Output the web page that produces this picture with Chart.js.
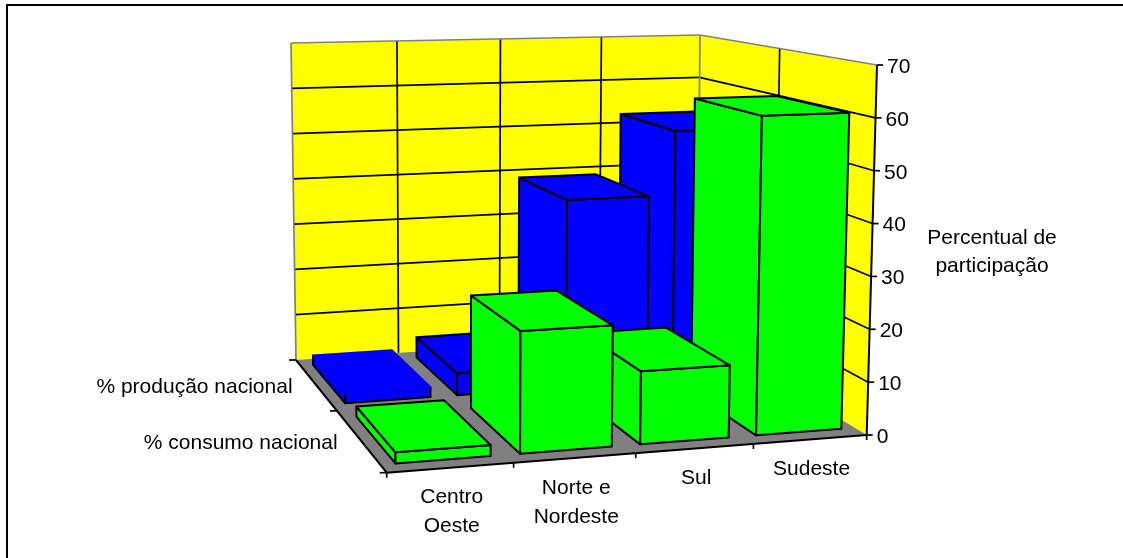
<!DOCTYPE html>
<html>
<head>
<meta charset="utf-8">
<style>
  html, body { margin: 0; padding: 0; background: #fff; }
  #wrap { width: 1123px; height: 558px; }
</style>
<script src="https://cdn.jsdelivr.net/npm/chart.js@4/dist/chart.umd.min.js"></script>
</head>
<body>
<div id="wrap"><canvas id="chart" width="1123" height="558"></canvas></div>
<script>
const categories = ["Centro Oeste", "Norte e Nordeste", "Sul", "Sudeste"];
const categoryLines = [["Centro", "Oeste"], ["Norte e", "Nordeste"], ["Sul"], ["Sudeste"]];
const seriesNames = ["% consumo nacional", "% produção nacional"];
const consumo = [2, 22.5, 13.6, 60.5];
const producao = [2, 4.5, 39, 52.6];
const axisTitle = ["Percentual de", "participação"];

// corners of the plot box, at the floor and at the top of the value axis
const floorCorners = {
  frontLeft: [386.7, 472.7],
  frontRight: [866.7, 435],
  backLeft: [296, 360],
  backRight: [697, 332],
};
const topCorners = {
  frontLeft: [386, 78],
  frontRight: [877, 65],
  backLeft: [291, 43],
  backRight: [700, 35],
};
const FONT = '21px "Liberation Sans", Arial, sans-serif';
const BAR_SHARE = 0.76;
const DEPTH_SHARE = 0.76;
const FLOOR_BEND = 0.04;
const TOP_BEND = -0.03;

// homography from the unit square (u along categories, v into depth) to a quad
function quadMatrix(c) {
  const [x0, y0] = c.frontLeft, [x1, y1] = c.frontRight;
  const [x2, y2] = c.backRight, [x3, y3] = c.backLeft;
  const dx1 = x1 - x2, dx2 = x3 - x2, sx = x0 - x1 + x2 - x3;
  const dy1 = y1 - y2, dy2 = y3 - y2, sy = y0 - y1 + y2 - y3;
  const det = dx1 * dy2 - dx2 * dy1;
  const g = (sx * dy2 - dx2 * sy) / det;
  const h = (dx1 * sy - sx * dy1) / det;
  return [x1 - x0 + g * x1, x3 - x0 + h * x3, x0,
          y1 - y0 + g * y1, y3 - y0 + h * y3, y0,
          g, h, 1];
}
const H0 = quadMatrix(floorCorners);
const H1 = quadMatrix(topCorners);

function onQuad(M, u, v) {
  const w = M[6] * u + M[7] * v + M[8];
  return [(M[0] * u + M[1] * v + M[2]) / w, (M[3] * u + M[4] * v + M[5]) / w];
}

// h runs from 0 at the floor to 1 at the axis maximum
function project(u, v, h) {
  const a = onQuad(H0, u + FLOOR_BEND * (1 - v) * u * (1 - u), v);
  const b = onQuad(H1, u + TOP_BEND * u * (1 - u), v);
  return [a[0] + (b[0] - a[0]) * h, a[1] + (b[1] - a[1]) * h];
}

function poly(ctx, pts, fill, stroke, lw) {
  ctx.beginPath();
  pts.forEach((p, i) => (i ? ctx.lineTo(p[0], p[1]) : ctx.moveTo(p[0], p[1])));
  ctx.closePath();
  if (fill) { ctx.fillStyle = fill; ctx.fill(); }
  if (stroke) { ctx.strokeStyle = stroke; ctx.lineWidth = lw; ctx.stroke(); }
}

function line(ctx, a, b, color, lw) {
  ctx.beginPath();
  ctx.moveTo(a[0], a[1]);
  ctx.lineTo(b[0], b[1]);
  ctx.strokeStyle = color;
  ctx.lineWidth = lw;
  ctx.stroke();
}

const box3d = {
  id: "box3d",
  beforeDatasetsDraw(chart) {
    const ctx = chart.ctx;
    const xs = chart.scales.x, ys = chart.scales.y;
    const area = chart.chartArea;
    const toH = (value) => (area.bottom - ys.getPixelForValue(value)) / (area.bottom - area.top);
    const ticks = ys.ticks.map((t) => t.value);
    const nCat = xs.ticks.length, nRow = chart.data.datasets.length;
    const GRID = 1.7, EDGE = 2;

    ctx.save();
    ctx.lineJoin = "round";

    // top and left rules of the frame
    line(ctx, [7, 5], [1123, 5], "#000", 2);
    line(ctx, [7, 4], [7, 558], "#000", 2);

    // walls and floor
    poly(ctx, [project(0, 1, 0), project(1, 1, 0), project(1, 1, 1), project(0, 1, 1)], "#ffff00");
    poly(ctx, [project(1, 1, 0), project(1, 0, 0), project(1, 0, 1), project(1, 1, 1)], "#ffff00");
    poly(ctx, [project(0, 0, 0), project(1, 0, 0), project(1, 1, 0), project(0, 1, 0)], "#808080");

    // horizontal gridlines on both walls
    ticks.forEach((t) => {
      if (t === 0 || t === ys.max) return;
      const h = toH(t);
      line(ctx, project(0, 1, h), project(1, 1, h), "#000", GRID);
      line(ctx, project(1, 1, h), project(1, 0, h), "#000", GRID);
    });
    // vertical gridlines
    for (let i = 1; i < nCat; i++) line(ctx, project(i / nCat, 1, 0), project(i / nCat, 1, 1), "#000", GRID);
    for (let j = 1; j < nRow; j++) line(ctx, project(1, j / nRow, 0), project(1, j / nRow, 1), "#000", GRID);

    // grey outline of the walls
    const grey = "#808080";
    line(ctx, project(0, 1, 0), project(0, 1, 1), grey, GRID);
    line(ctx, project(0, 1, 1), project(1, 1, 1), grey, GRID);
    line(ctx, project(1, 1, 0), project(1, 1, 1), grey, GRID);
    line(ctx, project(1, 1, 1), project(1, 0, 1), grey, GRID);

    // axes along the floor edges
    line(ctx, project(0, 1, 0), project(0, 0, 0), "#000", EDGE);
    line(ctx, project(0, 0, 0), project(1, 0, 0), "#000", EDGE);
    line(ctx, project(1, 0, 0), project(1, 0, 1), "#000", EDGE);

    // ticks
    for (let i = 0; i <= nCat; i++) {
      const p = project(i / nCat, 0, 0);
      line(ctx, p, [p[0], p[1] + 5], "#000", GRID);
    }
    for (let j = 0; j <= nRow; j++) {
      const p = project(0, j / nRow, 0);
      line(ctx, [p[0] - 7, p[1]], p, "#000", GRID);
    }

    // boxes, back row first and right to left within a row
    for (let ds = nRow - 1; ds >= 0; ds--) {
      const meta = chart.getDatasetMeta(ds);
      const color = chart.data.datasets[ds].backgroundColor;
      const v0 = (ds + (1 - DEPTH_SHARE) / 2) / nRow;
      const v1 = (ds + 1 - (1 - DEPTH_SHARE) / 2) / nRow;
      for (let i = meta.data.length - 1; i >= 0; i--) {
        const bar = meta.data[i];
        const u0 = (bar.x - bar.width / 2 - area.left) / (area.right - area.left);
        const u1 = (bar.x + bar.width / 2 - area.left) / (area.right - area.left);
        const h = (bar.base - bar.y) / (area.bottom - area.top);
        // the flat blue box in the back row has its top edges in its own colour
        const topStroke = ds === 1 && i === 0 ? color : "#000";
        poly(ctx, [project(u0, v1, 0), project(u0, v0, 0), project(u0, v0, h), project(u0, v1, h)], color, "#000", EDGE);
        poly(ctx, [project(u0, v0, 0), project(u1, v0, 0), project(u1, v0, h), project(u0, v0, h)], color, "#000", EDGE);
        poly(ctx, [project(u0, v0, h), project(u1, v0, h), project(u1, v1, h), project(u0, v1, h)], color, topStroke, EDGE);
      }
    }

    // value axis ticks and all the texts
    ctx.fillStyle = "#000";
    ctx.font = FONT;
    ctx.textBaseline = "middle";
    ctx.textAlign = "left";
    ys.ticks.forEach((t) => {
      const p = project(1, 0, toH(t.value));
      line(ctx, p, [p[0] + 6, p[1]], "#000", GRID);
      ctx.fillText(t.label, p[0] + 10, p[1] + 2);
    });

    ctx.textAlign = "right";
    seriesNames.forEach((name, j) => {
      const p = project(0, (j + 0.5) / nRow, 0);
      ctx.fillText(name, p[0] - 23, p[1] + 3);
    });

    ctx.textAlign = "center";
    categoryLines.forEach((lines, i) => {
      const p = project((i + 0.5) / nCat, 0, 0);
      lines.forEach((txt, n) => ctx.fillText(txt, p[0] + 1, p[1] + 30 + n * 29));
    });
    axisTitle.forEach((txt, n) => ctx.fillText(txt, 992, 238 + n * 28));

    ctx.restore();
    return false;
  },
};

new Chart(document.getElementById("chart"), {
  type: "bar",
  data: {
    labels: categories,
    datasets: [
      { label: seriesNames[0], data: consumo, backgroundColor: "#00ff00" },
      { label: seriesNames[1], data: producao, backgroundColor: "#0000ff" },
    ],
  },
  options: {
    responsive: false,
    animation: false,
    events: [],
    layout: { padding: { left: 387, right: 256, top: 65, bottom: 123 } },
    datasets: { bar: { grouped: false, categoryPercentage: 1, barPercentage: BAR_SHARE } },
    plugins: { legend: { display: false }, tooltip: { enabled: false } },
    scales: {
      x: { display: false },
      y: { display: false, min: 0, max: 70, ticks: { stepSize: 10 } },
    },
  },
  plugins: [box3d],
});
</script>
</body>
</html>
